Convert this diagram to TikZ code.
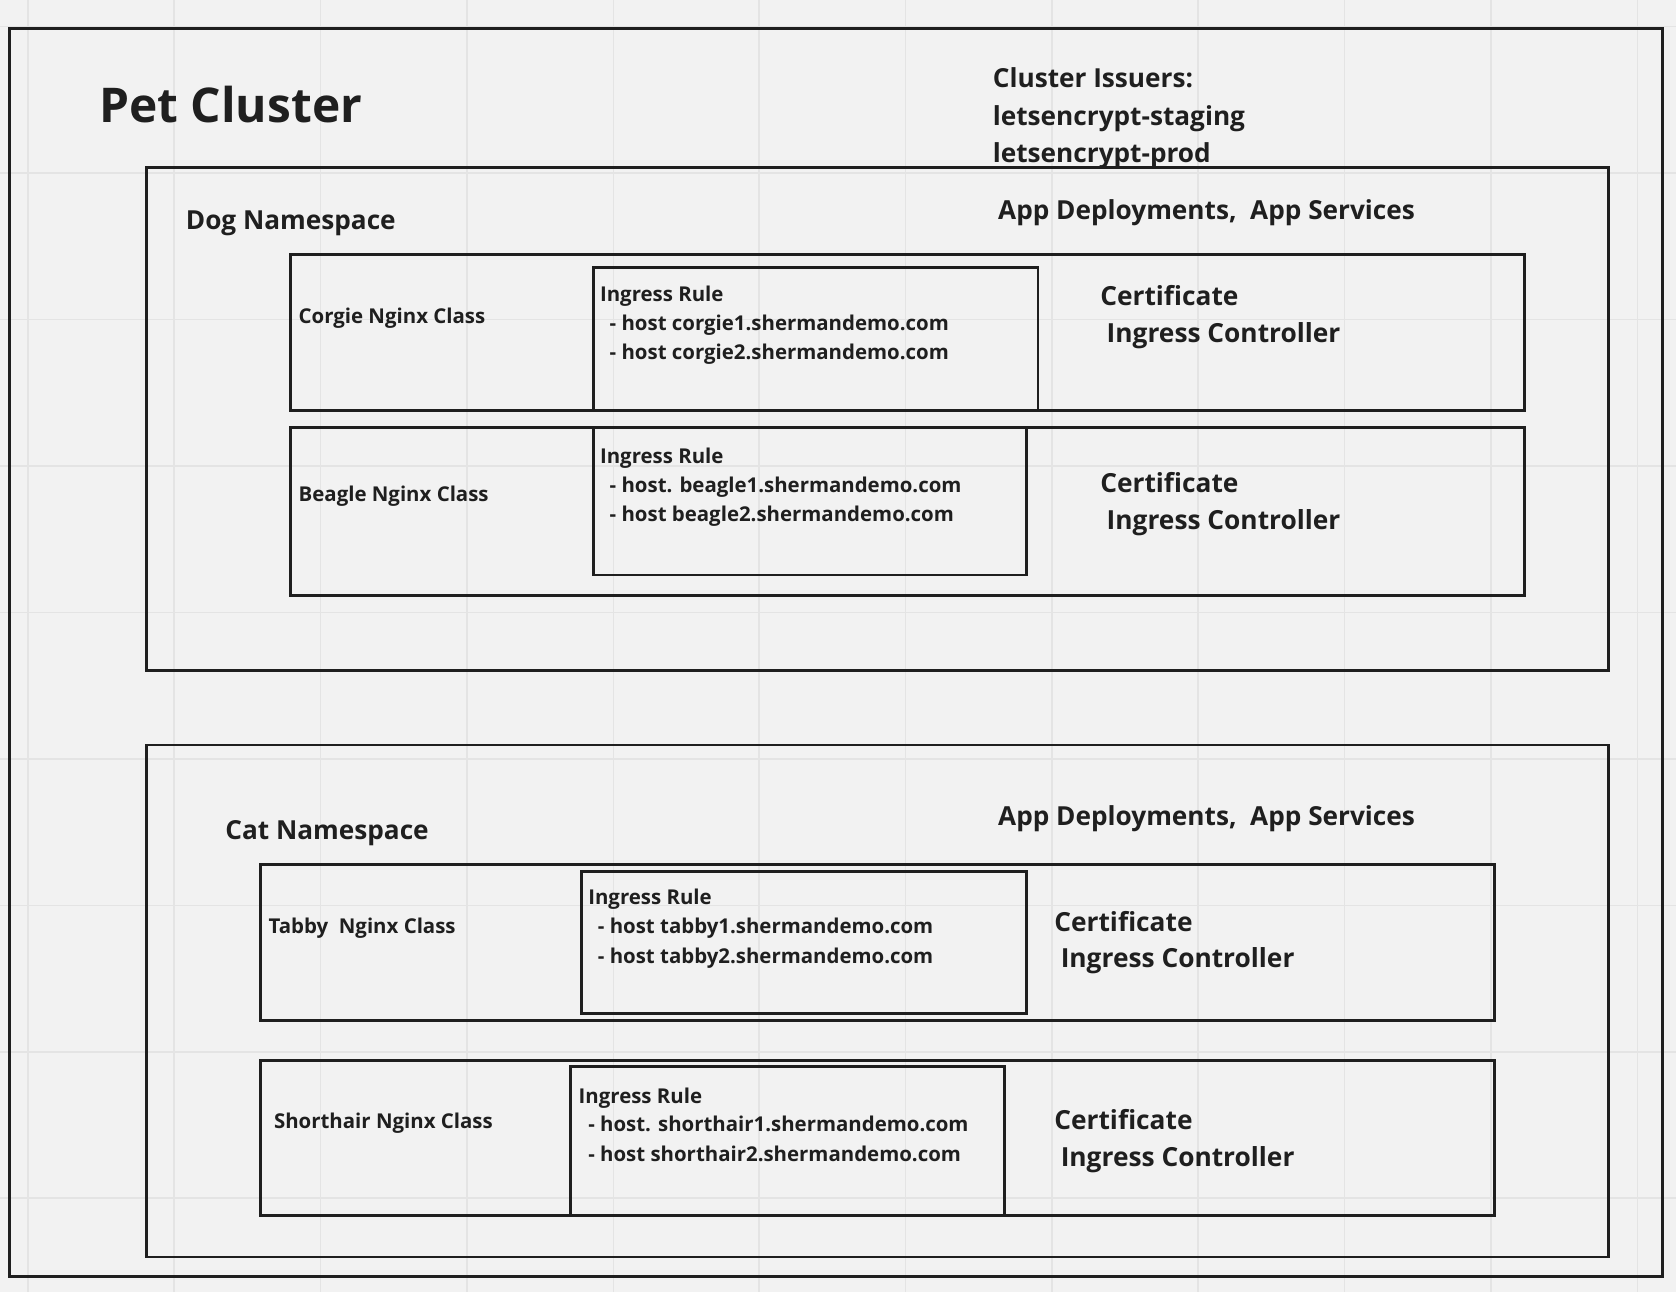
\documentclass[tikz,border=0pt]{standalone}
\usepackage{fontspec}
\setmainfont{Open Sans}
\definecolor{bgc}{HTML}{F2F2F2}
\definecolor{gridc}{HTML}{E4E4E4}
\definecolor{inkc}{HTML}{1F1F1F}
\tikzset{
  boxline/.style={draw=inkc, line width=1.3pt},
  outerline/.style={draw=inkc, line width=1.5pt},
  txt/.style={anchor=base west, inner sep=0pt, text=inkc, font=\bfseries},
  titletxt/.style={txt, font=\fontsize{22.4}{27}\selectfont\bfseries},
  bigtxt/.style={txt, font=\fontsize{12.25}{14}\selectfont\bfseries},
  certtxt/.style={txt, font=\fontsize{12.3}{14}\selectfont\bfseries},
  smalltxt/.style={txt, font=\fontsize{9.55}{12}\selectfont\bfseries},
}
\begin{document}
\begin{tikzpicture}[x=0.5pt,y=-0.5pt]
\useasboundingbox (0,0) rectangle (1568,1209);
\fill[bgc] (0,0) rectangle (1568,1209);
% grid
\foreach \gx in {26,163,300,437,574,710,847,984,1121,1258,1395,1532}
  \draw[gridc, line width=0.7pt] (\gx,0) -- (\gx,1209);
\foreach \gy in {25,162,299,436,573,710,847,984,1121}
  \draw[gridc, line width=0.7pt] (0,\gy) -- (1568,\gy);

% outer cluster
\draw[outerline] (9,27) rectangle (1555,1194);
\node[titletxt] (title) at (92.5,115) {Pet Cluster};
\node[bigtxt] (iss1) at (928.5,82) {Cluster Issuers:};
\node[bigtxt] (iss2) at (928.5,117) {letsencrypt-staging};
\node[bigtxt] (iss3) at (928.5,152) {letsencrypt-prod};

% Dog namespace
\draw[boxline] (137,157) rectangle (1505,627);
\node[bigtxt] (dogns) at (173.5,214.5) {Dog Namespace};
\node[bigtxt] (dogapp) at (933.5,205) {App Deployments,\ \ App Services};

% Corgie
\draw[boxline] (272,238) rectangle (1426,384);
\draw[boxline] (555,250) rectangle (971,384);
\node[smalltxt] (corgie) at (279,303) {Corgie Nginx Class};
\node[smalltxt] (cir) at (561,282) {Ingress Rule};
\node[smalltxt] (ch1) at (570,309) {- host corgie1.shermandemo.com};
\node[smalltxt] (ch2) at (570,336) {- host corgie2.shermandemo.com};
\node[certtxt] (ccert) at (1029,285.5) {Certificate};
\node[certtxt] (cic) at (1035,320.5) {Ingress Controller};

% Beagle
\draw[boxline] (272,400) rectangle (1426,557);
\draw[boxline] (555,400) rectangle (960,538);
\node[smalltxt] (beagle) at (279,469) {Beagle Nginx Class};
\node[smalltxt] (bir) at (561,434) {Ingress Rule};
\node[smalltxt] (bh1) at (570,461) {- host. beagle1.shermandemo.com};
\node[smalltxt] (bh2) at (570,488) {- host beagle2.shermandemo.com};
\node[certtxt] (bcert) at (1029,460.5) {Certificate};
\node[certtxt] (bic) at (1035,495.5) {Ingress Controller};

% Cat namespace
\draw[boxline] (137,697) rectangle (1505,1176);
\node[bigtxt] (catns) at (210.5,785) {Cat Namespace};
\node[bigtxt] (catapp) at (933.5,772) {App Deployments,\ \ App Services};

% Tabby
\draw[boxline] (244,809) rectangle (1398,955);
\draw[boxline] (544,815) rectangle (960,948);
\node[smalltxt] (tabby) at (251,873) {Tabby\ \ Nginx Class};
\node[smalltxt] (tir) at (550,846) {Ingress Rule};
\node[smalltxt] (th1) at (559,873) {- host tabby1.shermandemo.com};
\node[smalltxt] (th2) at (559,901) {- host tabby2.shermandemo.com};
\node[certtxt] (tcert) at (986,871.5) {Certificate};
\node[certtxt] (tic) at (992,905.5) {Ingress Controller};

% Shorthair
\draw[boxline] (244,992) rectangle (1398,1137);
\draw[boxline] (534,998) rectangle (940,1137);
\node[smalltxt] (short) at (256,1056) {Shorthair Nginx Class};
\node[smalltxt] (sir) at (541,1032) {Ingress Rule};
\node[smalltxt] (sh1) at (550,1059) {- host. shorthair1.shermandemo.com};
\node[smalltxt] (sh2) at (550,1087) {- host shorthair2.shermandemo.com};
\node[certtxt] (scert) at (986,1056.5) {Certificate};
\node[certtxt] (sic) at (992,1091.5) {Ingress Controller};
\end{tikzpicture}
\end{document}
